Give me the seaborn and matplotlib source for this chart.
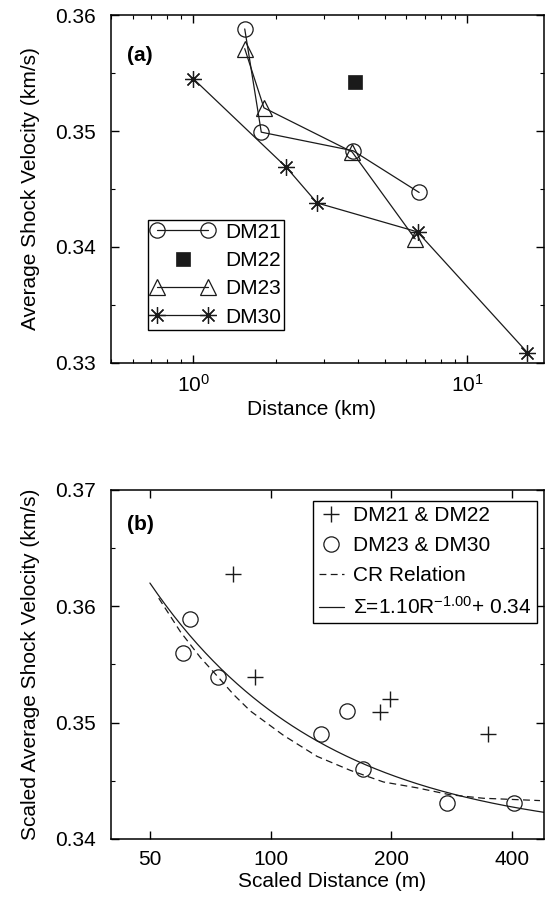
import matplotlib
matplotlib.use("Agg")
import numpy as np
import matplotlib.pyplot as plt
import seaborn as sns
from matplotlib.ticker import MultipleLocator, FixedLocator, FixedFormatter, NullLocator, LogLocator, FormatStrFormatter
from matplotlib.legend_handler import HandlerLine2D

# ---------------- data: panel (a) ----------------
DM21_DIST = [1.54, 1.77, 3.83, 6.68]
DM21_VEL = [0.3588, 0.3499, 0.3483, 0.3447]
DM22_DIST = [3.88]
DM22_VEL = [0.3542]
DM23_DIST = [1.54, 1.81, 3.80, 6.46]
DM23_VEL = [0.3571, 0.3520, 0.3482, 0.3407]
DM30_DIST = [1.00, 2.18, 2.83, 6.59, 16.6]
DM30_VEL = [0.3545, 0.3469, 0.3438, 0.3413, 0.3309]

# ---------------- data: panel (b) ----------------
CROSS_DIST = [80.5, 91.6, 187.5, 198.6, 348.0]
CROSS_VEL = [0.3628, 0.3539, 0.3509, 0.3520, 0.3490]
CIRC_DIST = [60.5, 62.9, 73.8, 133.3, 154.8, 170.3, 274.6, 403.8]
CIRC_VEL = [0.3560, 0.3589, 0.3539, 0.3490, 0.3510, 0.3460, 0.3431, 0.3431]
CR_DIST = [52.6, 59.6, 66.8, 73.6, 80.9, 89.0, 107.7, 130.5, 157.9, 191.0, 231.3, 280.0, 339.0, 469.0]
CR_VEL = [0.3607, 0.3578, 0.3556, 0.3540, 0.3524, 0.3510, 0.3489, 0.3471, 0.3459, 0.3449, 0.3444, 0.3438, 0.3435, 0.3433]
# fitted relation shown in legend: Sigma = A * R^B + C
FIT_A, FIT_B, FIT_C = 1.10, -1.00, 0.34
FIT_RANGE = (50.0, 480.0)

XTICKS_B = [50, 100, 200, 400]
XTICKLABELS_B = ["50", "100", "200", "400"]

sns.set_theme(style="ticks")
FS = 15
plt.rcParams.update({
    "font.family": ["Liberation Sans", "DejaVu Sans"],
    "mathtext.fontset": "custom",
    "mathtext.rm": "Liberation Sans",
    "mathtext.it": "Liberation Sans:italic",
    "mathtext.bf": "Liberation Sans:bold",
    "axes.edgecolor": "black",
    "axes.linewidth": 1.1,
    "xtick.direction": "in",
    "ytick.direction": "in",
    "xtick.top": True,
    "ytick.right": True,
    "xtick.color": "black",
    "ytick.color": "black",
    "text.color": "black",
    "axes.labelcolor": "black",
})

fig = plt.figure(figsize=(5.45, 9), dpi=100)
ax1 = fig.add_axes([0.2037, 0.5967, 0.7945, 0.3866])
ax2 = fig.add_axes([0.2037, 0.0678, 0.7945, 0.3878])

LW = 0.9
# ---------------- panel (a) ----------------
ax1.set_xscale("log")
sns.lineplot(x=DM21_DIST, y=DM21_VEL, ax=ax1, color="k", lw=LW, marker="o", markersize=11,
             mfc="none", mec="k", mew=0.9, sort=False, estimator=None, label="DM21")
sns.lineplot(x=DM22_DIST, y=DM22_VEL, ax=ax1, color="k", linestyle="", marker="s", markersize=9.5,
             mfc="k", mec="k", mew=0.5, sort=False, estimator=None, label="DM22")
sns.lineplot(x=DM23_DIST, y=DM23_VEL, ax=ax1, color="k", lw=LW, marker="^", markersize=11,
             mfc="none", mec="k", mew=0.9, sort=False, estimator=None, label="DM23")
sns.lineplot(x=DM30_DIST, y=DM30_VEL, ax=ax1, color="k", lw=LW, marker=(8, 2, 0), markersize=12,
             mec="k", mew=0.9, sort=False, estimator=None, label="DM30")

ax1.set_xlim(0.5, 19.1)
ax1.set_ylim(0.33, 0.36)
ax1.yaxis.set_major_locator(MultipleLocator(0.01))
ax1.yaxis.set_minor_locator(MultipleLocator(0.005))
ax1.yaxis.set_major_formatter(FormatStrFormatter("%.2f"))
ax1.xaxis.set_major_locator(LogLocator(base=10, numticks=10))
ax1.xaxis.set_minor_locator(LogLocator(base=10, subs=np.arange(2, 10), numticks=20))

handles, labels = ax1.get_legend_handles_labels()
h22 = handles[labels.index("DM22")]
leg1 = ax1.legend(handles, labels, loc="lower left", bbox_to_anchor=(0.0855, 0.095),
                  borderaxespad=0, fontsize=FS, frameon=True, fancybox=False, framealpha=1,
                  edgecolor="black", numpoints=2, handlelength=3.05, handletextpad=0.5,
                  labelspacing=0.45, borderpad=0.15,
                  handler_map={h22: HandlerLine2D(numpoints=1)})
leg1.get_frame().set_linewidth(1.0)

ax1.set_xlabel("Distance (km)", fontsize=FS)
ax1.set_ylabel("Average Shock Velocity (km/s)", fontsize=FS)
ax1.xaxis.set_label_coords(0.462, -0.106)
ax1.yaxis.set_label_coords(-0.165, 0.5)
ax1.text(0.037, 0.885, "(a)", transform=ax1.transAxes, fontsize=FS, fontweight="bold",
         ha="left", va="center")

# ---------------- panel (b) ----------------
ax2.set_xscale("log")
sns.lineplot(x=CROSS_DIST, y=CROSS_VEL, ax=ax2, color="k", linestyle="", marker="+", markersize=11,
             mec="k", mfc="k", mew=1.0, sort=False, estimator=None, label="DM21 & DM22")
sns.lineplot(x=CIRC_DIST, y=CIRC_VEL, ax=ax2, color="k", linestyle="", marker="o", markersize=11,
             mfc="none", mec="k", mew=0.9, sort=False, estimator=None, label="DM23 & DM30")
sns.lineplot(x=CR_DIST, y=CR_VEL, ax=ax2, color="k", lw=LW, linestyle=(0, (5.5, 3.5)),
             sort=False, estimator=None, label="CR Relation")
r_fit = np.geomspace(FIT_RANGE[0], FIT_RANGE[1], 200)
v_fit = FIT_A * r_fit ** FIT_B + FIT_C
sns.lineplot(x=r_fit, y=v_fit, ax=ax2, color="k", lw=LW, sort=False, estimator=None,
             label=r"Σ=1.10R$^{\mathrm{-1.00}}$+ 0.34")

ax2.set_xlim(40, 480)
ax2.set_ylim(0.34, 0.37)
ax2.yaxis.set_major_locator(MultipleLocator(0.01))
ax2.yaxis.set_minor_locator(MultipleLocator(0.005))
ax2.yaxis.set_major_formatter(FormatStrFormatter("%.2f"))
ax2.xaxis.set_major_locator(FixedLocator(XTICKS_B))
ax2.xaxis.set_major_formatter(FixedFormatter(XTICKLABELS_B))
ax2.xaxis.set_minor_locator(NullLocator())

leg2 = ax2.legend(loc="upper right", bbox_to_anchor=(0.984, 0.969), borderaxespad=0,
                  fontsize=FS, frameon=True, fancybox=False, framealpha=1, edgecolor="black",
                  numpoints=1, handlelength=1.2, handletextpad=0.45, labelspacing=0.52,
                  borderpad=0.27)
leg2.get_frame().set_linewidth(1.0)

ax2.set_xlabel("Scaled Distance (m)", fontsize=FS)
ax2.set_ylabel("Scaled Average Shock Velocity (km/s)", fontsize=FS)
ax2.xaxis.set_label_coords(0.51, -0.095)
ax2.yaxis.set_label_coords(-0.165, 0.5)
ax2.text(0.037, 0.90, "(b)", transform=ax2.transAxes, fontsize=FS, fontweight="bold",
         ha="left", va="center")

for ax in (ax1, ax2):
    ax.tick_params(axis="both", which="major", length=6, width=1.0, labelsize=FS, colors="black")
    ax.tick_params(axis="both", which="minor", length=3, width=0.8)
    ax.tick_params(axis="y", which="both", pad=11)
    ax.tick_params(axis="x", which="both", pad=8)
    for s in ax.spines.values():
        s.set_visible(True)
        s.set_color("black")
        s.set_linewidth(1.1)

fig.savefig("out.png", dpi=100, facecolor="white")
